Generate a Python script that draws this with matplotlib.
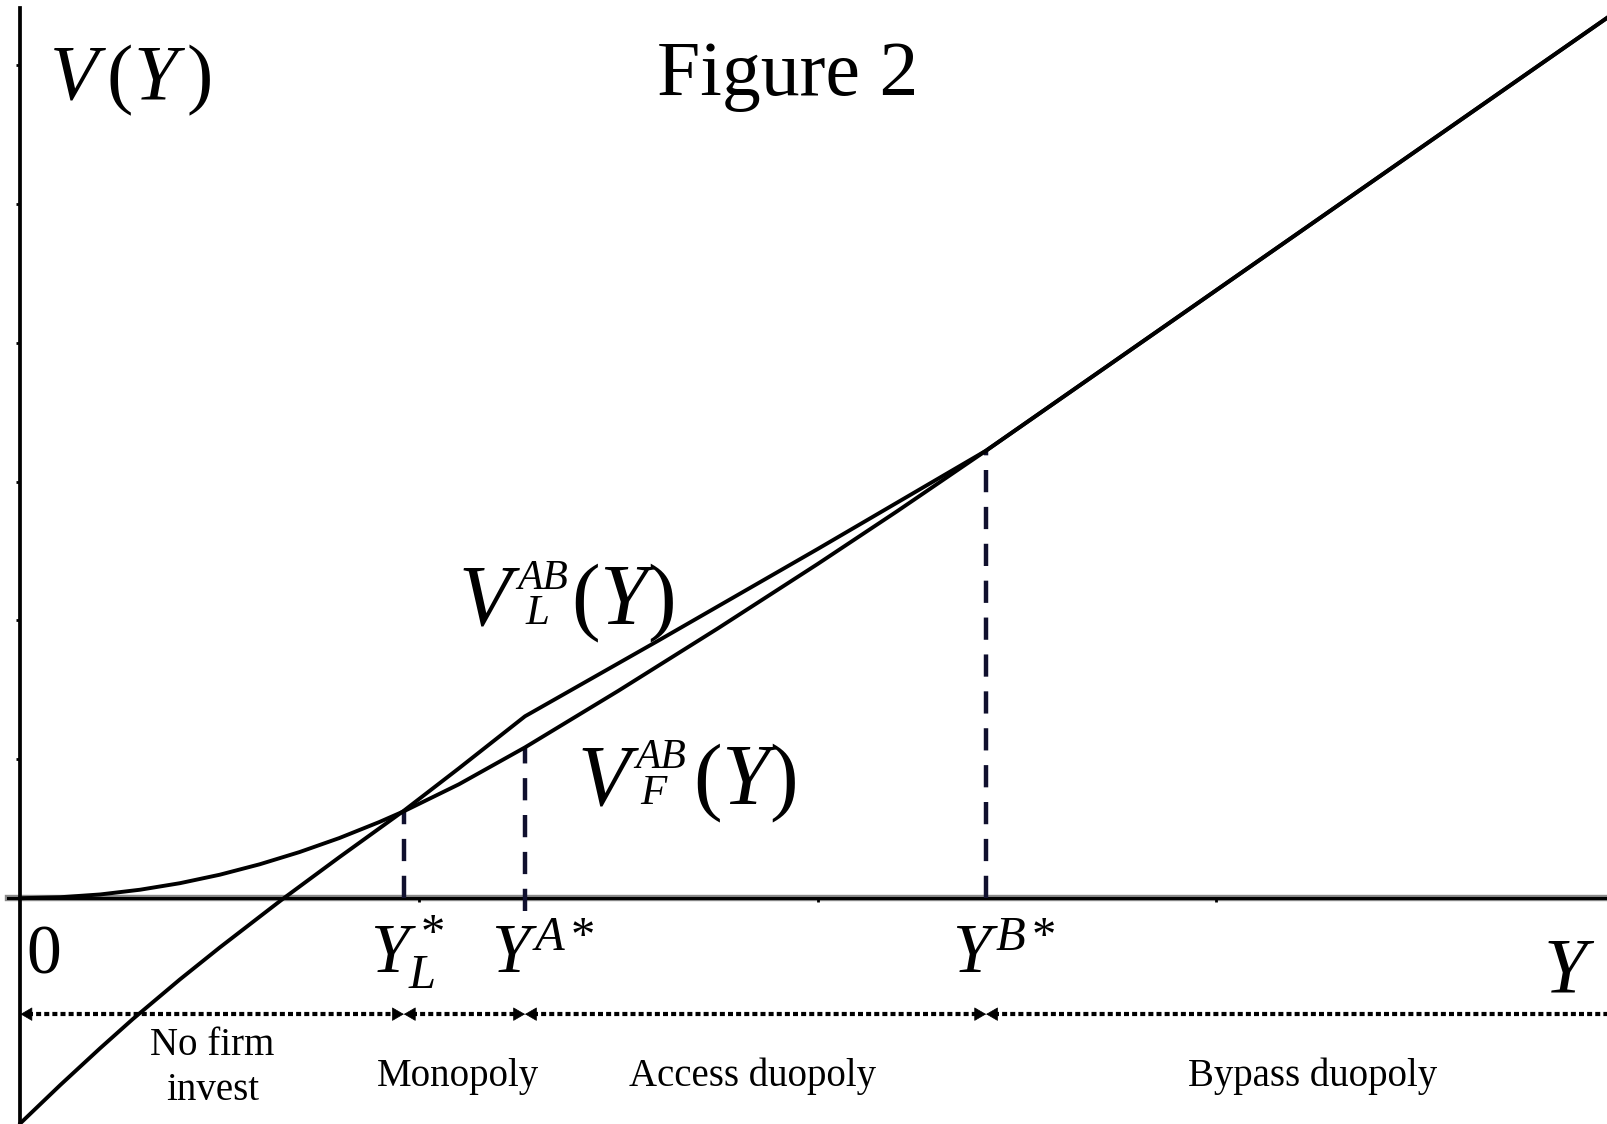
import numpy as np
import matplotlib
matplotlib.use("Agg")
import matplotlib.pyplot as plt

plt.rcParams['font.family'] = ['Liberation Serif', 'DejaVu Serif']
plt.rcParams['mathtext.fontset'] = 'custom'
plt.rcParams['mathtext.rm'] = 'Liberation Serif'
plt.rcParams['mathtext.it'] = 'Liberation Serif:italic'
plt.rcParams['mathtext.bf'] = 'Liberation Serif:bold'

# values (x in tick units, y in tick units)
follower_x = [0, 0.1, 0.2, 0.3, 0.4, 0.5, 0.6, 0.7, 0.8, 0.9, 0.962, 1.1, 1.266,
              1.5, 1.75, 2.0, 2.2, 2.423, 3.2, 4.0]
follower_y = [0, 0.007, 0.027, 0.061, 0.108, 0.169, 0.244, 0.332, 0.433, 0.548, 0.626, 0.82, 1.086,
              1.493, 1.943, 2.406, 2.787, 3.223, 4.777, 6.377]

leader_x = [0, 0.1, 0.2, 0.282, 0.4, 0.5, 0.656, 0.8, 0.962, 1.1, 1.266,
            1.6, 2.0, 2.423, 3.2, 4.0]
leader_y = [-1.62, -1.345, -1.08, -0.87, -0.585, -0.355, -0.01, 0.295, 0.63, 0.935, 1.31,
            1.854, 2.514, 3.223, 4.777, 6.377]

thresholds = [0.962, 1.266, 2.423]
threshold_top = [0.626, 1.086, 3.223]
threshold_bottom = [0.0, -0.09, 0.0]
threshold_labels = [r'$Y_L^*$', r'$Y^{A*}$', r'$Y^{B*}$']

region_edges = [0, 0.962, 1.266, 2.423, 4.05]
region_names = ['No firm\ninvest', 'Monopoly', 'Access duopoly', 'Bypass duopoly']

fig = plt.figure(figsize=(16.07, 11.24), dpi=100)
ax = fig.add_axes([0, 0, 1, 1])
ax.set_xlim(-0.0514, 3.981)
ax.set_ylim(-1.626, 6.468)

# axes through the origin
for s in ['top', 'right']:
    ax.spines[s].set_visible(False)
ax.spines['left'].set_position(('data', 0))
ax.spines['bottom'].set_position(('data', 0))
ax.spines['left'].set_linewidth(2.7)
ax.spines['bottom'].set_linewidth(2.2)
ax.spines['left'].set_bounds(-1.626, 6.41)
ax.spines['bottom'].set_bounds(-0.031, 3.981)
ax.axhline(0, xmin=0.005, color='#8a8a8a', lw=4.6, zorder=1)
ax.set_xticks([1, 2, 3])
ax.set_yticks([1, 2, 3, 4, 5, 6])
ax.tick_params(axis='both', direction='out', length=3, width=2, labelbottom=False, labelleft=False)

# curves
ax.plot(follower_x, follower_y, color='black', lw=2.8, zorder=3, solid_joinstyle='round')
ax.plot(leader_x, leader_y, color='black', lw=2.8, zorder=3, solid_joinstyle='round')

# vertical dashed lines at thresholds
ax.vlines(thresholds, threshold_bottom, threshold_top, colors='#10102e', lw=3.2,
          linestyles=(0, (5.0, 3.3)), zorder=2.6)

# labels
ax.text(1.924, 5.784, 'Figure 2', ha='center', va='baseline', fontsize=56)
ax.text(0.0715, 5.755, r'$V\,(Y\,)$', ha='left', va='baseline', fontsize=57)


def value_label(x0, y0, sub, xs, xsup, ysup, xpar):
    ax.text(x0, y0, 'V', ha='left', va='baseline', fontsize=62, fontstyle='italic')
    ax.text(xsup, ysup, 'AB', ha='left', va='baseline', fontsize=30, fontstyle='italic')
    ax.text(xs, y0, sub, ha='left', va='baseline', fontsize=31, fontstyle='italic')
    ax.text(xpar, y0, r'$(Y)$', ha='left', va='baseline', fontsize=62)


value_label(1.098, 1.971, 'L', 1.268, 1.247, 2.230, 1.382)
value_label(1.397, 0.675, 'F', 1.556, 1.543, 0.937, 1.688)

ax.text(0.014, -0.54, '0', ha='left', va='baseline', fontsize=50)
for x, lab in zip(thresholds, threshold_labels):
    ax.text(x - 0.085, -0.54, lab, ha='left', va='baseline', fontsize=50)
ax.text(3.821, -0.669, r'$Y$', ha='left', va='baseline', fontsize=56)

# region arrows
y_arr = -0.835
for i in range(len(region_edges) - 1):
    a, b = region_edges[i], region_edges[i + 1]
    ax.plot([a + 0.02, b - 0.02], [y_arr, y_arr], color='black', lw=3.0,
            linestyle=(0, (1.2, 0.75)), zorder=3)
    tips = [(a, -1)]
    if i < len(region_edges) - 2:
        tips.append((b, 1))
    for tip, d in tips:
        ax.annotate('', xy=(tip, y_arr), xytext=(tip - d * 0.02, y_arr),
                    arrowprops=dict(arrowstyle='-|>,head_length=0.55,head_width=0.32',
                                    mutation_scale=14, color='black', lw=0.5,
                                    shrinkA=0, shrinkB=0), zorder=4)

ax.text(0.481, -1.129, 'No firm', ha='center', va='baseline', fontsize=28)
ax.text(0.481, -1.453, 'invest', ha='center', va='baseline', fontsize=28)
for xc, name in zip([1.098, 1.838, 3.241], region_names[1:]):
    ax.text(xc, -1.353, name, ha='center', va='baseline', fontsize=28)

fig.savefig('out.png', dpi=100)
